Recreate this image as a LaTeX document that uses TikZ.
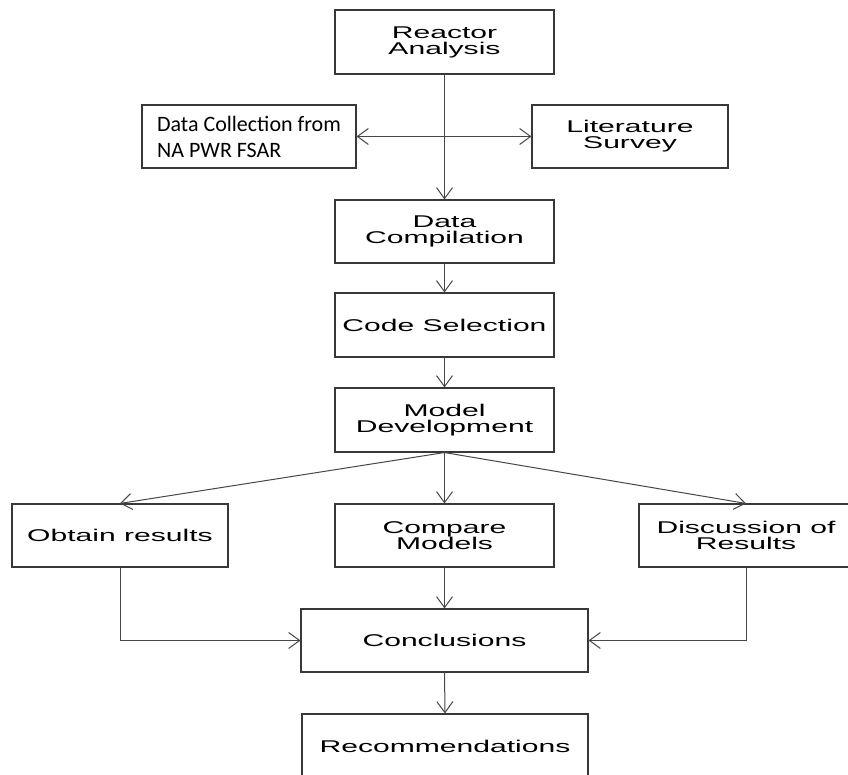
\documentclass[tikz,border=0pt]{standalone}
\usepackage{fontspec}
\setmainfont{Liberation Sans}[FakeStretch=1.77]
\newfontfamily\calib{Carlito}
\usetikzlibrary{arrows.meta}
\tikzset{
  box/.style={draw=black!78, line width=1.1pt, inner sep=0pt, align=center,
    font=\fontsize{17}{16}\selectfont},
  conn/.style={draw=black!72, line width=1pt,
    -{Straight Barb[length=11pt,width=16pt,line width=1pt]}},
  biconn/.style={draw=black!72, line width=1pt,
    {Straight Barb[length=11pt,width=16pt,line width=1pt]}-{Straight Barb[length=11pt,width=16pt,line width=1pt]}}
}
\begin{document}
\begin{tikzpicture}[x=1pt,y=-1pt]
\clip (0,0) rectangle (848,775);
\fill[white] (0,0) rectangle (848,775);

\node[box, minimum width=219pt, minimum height=64pt] (ra) at (444.5,42) {Reactor\\Analysis};
\node[box, minimum width=214pt, minimum height=63pt, align=left,
      font=\calib\fontsize{22}{26}\selectfont] (dc) at (249,136.5) {Data Collection from\\NA PWR FSAR};
\node[box, minimum width=196pt, minimum height=63pt] (lit) at (630,136.5) {Literature\\Survey};
\node[box, minimum width=219pt, minimum height=63pt] (dcomp) at (444.5,231.5) {Data\\Compilation};
\node[box, minimum width=219pt, minimum height=64pt] (cs) at (444.5,325) {Code Selection};
\node[box, minimum width=219pt, minimum height=64pt] (md) at (444.5,420) {Model\\Development};
\node[box, minimum width=216pt, minimum height=63pt] (obt) at (120,535.5) {Obtain results};
\node[box, minimum width=219pt, minimum height=63pt] (cmp) at (444.5,535.5) {Compare\\Models};
\node[box, minimum width=214pt, minimum height=63pt] (disc) at (746,535.5) {Discussion of\\Results};
\node[box, minimum width=287pt, minimum height=63pt] (conc) at (444.5,640.5) {Conclusions};
\node[box, minimum width=286pt, minimum height=64pt] (rec) at (445,746) {Recommendations};

\draw[conn] (ra.south) -- (dcomp.north);
\draw[biconn] (dc.east) -- (lit.west);
\draw[conn] (dcomp.south) -- (cs.north);
\draw[conn] (cs.south) -- (md.north);
\draw[conn] (md.south) -- (obt.north);
\draw[conn] (md.south) -- (cmp.north);
\draw[conn] (md.south) -- (disc.north);
\draw[conn] (obt.south) |- (conc.west);
\draw[conn] (disc.south) |- (conc.east);
\draw[conn] (cmp.south) -- (conc.north);
\draw[conn] (conc.south) -- (rec.north);
\end{tikzpicture}
\end{document}
